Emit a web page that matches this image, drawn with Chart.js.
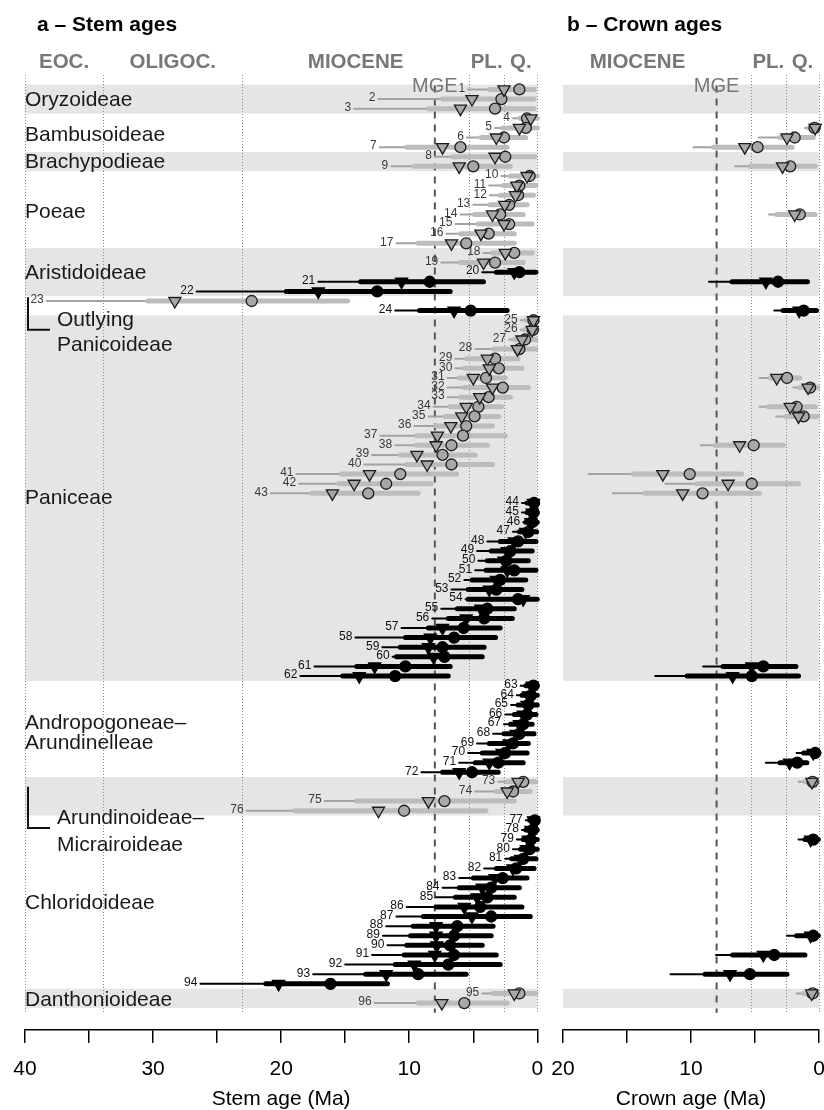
<!DOCTYPE html>
<html>
<head>
<meta charset="utf-8">
<script src="https://cdn.jsdelivr.net/npm/chart.js@4.4.1/dist/chart.umd.min.js"></script>
<style>
  html, body { margin: 0; padding: 0; background: #fff; overflow: hidden; }
  #wrap { position: relative; width: 824px; height: 1110px; overflow: hidden; }
  canvas { position: absolute; top: 0; }
  #stem { left: 0; }
  #crown { left: 550px; }
</style>
</head>
<body>
<div id="wrap">
  <canvas id="stem" width="550" height="1110"></canvas>
  <canvas id="crown" width="300" height="1110"></canvas>
</div>
<script>
// Rows 1..96, ages in Ma
const stemTri = [2.6, 5.1, 6.0, 0.5, 1.4, 3.2, 7.4, 3.3, 6.1, 0.8,
  1.6, 1.7, 2.55, 3.5, 2.6, 4.4, 6.7, 2.5, 4.2, 1.8,
  10.6, 17.1, 28.3, 6.5, 0.3, 0.4, 1.2, 1.55, 3.9, 3.75,
  5.0, 3.5, 4.5, 5.55, 5.9, 6.75, 7.8, 7.9, 9.4, 8.6,
  13.1, 14.3, 16.0, 0.3, 0.4, 0.5, 0.9, 1.8, 2.35, 2.6,
  2.35, 3.2, 3.75, 1.1, 4.4, 5.55, 7.4, 8.35, 8.5, 8.1,
  12.7, 13.9, 0.4, 0.7, 0.8, 1.1, 1.4, 1.65, 2.2, 2.75,
  3.75, 6.1, 1.5, 2.35, 8.5, 12.4, 0.3, 0.5, 0.7, 0.85,
  1.3, 1.9, 3.3, 4.3, 4.7, 5.7, 5.1, 7.9, 7.9, 7.85,
  8.0, 9.6, 11.8, 20.2, 1.8, 7.45];
const stemCirc = [1.4, 2.8, 3.3, 0.8, 0.9, 2.6, 6.0, 2.5, 5.0, 0.6,
  1.4, 1.5, 2.2, 2.9, 2.2, 3.8, 5.55, 1.8, 3.3, 1.4,
  8.4, 12.5, 22.3, 5.2, 0.3, 0.35, 0.95, 1.4, 3.3, 3.0,
  4.0, 2.7, 3.8, 4.6, 4.9, 5.55, 5.8, 6.7, 7.4, 6.7,
  10.7, 11.8, 13.2, 0.25, 0.3, 0.4, 0.7, 1.5, 2.1, 2.4,
  1.8, 2.9, 3.2, 1.5, 3.9, 4.15, 5.75, 6.5, 7.4, 7.25,
  10.3, 11.1, 0.3, 0.5, 0.7, 0.8, 1.1, 1.4, 1.9, 2.5,
  3.05, 5.1, 1.1, 1.9, 7.25, 10.4, 0.2, 0.35, 0.5, 0.6,
  1.1, 1.65, 2.7, 3.6, 3.9, 4.45, 3.6, 6.25, 6.5, 6.8,
  6.5, 6.95, 9.3, 16.15, 1.4, 5.7];
const stemThinLo = [5.4, 12.4, 14.3, 1.9, 3.3, 5.5, 12.3, 8.0, 11.4, 2.8,
  3.75, 3.7, 5.0, 6.0, 6.4, 7.1, 11.0, 4.2, 7.5, 4.3,
  17.1, 26.6, 38.3, 11.1, 1.3, 1.3, 2.2, 4.85, 6.4, 6.4,
  7.0, 7.0, 7.0, 8.1, 8.5, 9.6, 12.25, 11.1, 12.9, 13.5,
  18.8, 18.6, 20.8, 1.2, 1.2, 1.1, 1.9, 3.9, 4.7, 4.6,
  4.85, 5.7, 6.7, 5.6, 7.5, 8.2, 10.6, 14.2, 12.1, 11.3,
  17.4, 18.5, 1.3, 1.6, 2.05, 2.5, 2.6, 3.45, 4.7, 5.4,
  6.1, 9.05, 3.05, 4.85, 16.6, 22.7, 0.9, 1.2, 1.6, 1.9,
  2.5, 4.15, 6.1, 7.4, 7.9, 10.2, 11.0, 11.8, 12.05, 11.7,
  12.9, 15.0, 17.5, 26.3, 4.3, 12.7];
const stemThickLo = [3.7, 7.4, 8.5, 1.35, 2.7, 4.4, 10.2, 6.6, 9.6, 2.1,
  2.65, 2.9, 3.7, 4.9, 4.6, 6.0, 9.3, 3.5, 6.0, 3.2,
  13.8, 19.6, 30.4, 9.2, 0.9, 1.0, 1.8, 3.4, 5.5, 5.7,
  6.1, 5.7, 6.0, 6.8, 7.2, 7.9, 9.45, 9.45, 10.7, 10.2,
  15.3, 15.5, 17.6, 0.8, 0.8, 0.9, 1.4, 2.9, 3.6, 3.9,
  4.0, 5.1, 5.4, 5.4, 6.25, 6.95, 8.5, 10.3, 10.7, 11.0,
  14.1, 15.2, 0.9, 1.2, 1.5, 1.8, 2.1, 2.6, 3.75, 4.3,
  4.85, 7.4, 2.35, 3.2, 14.1, 18.9, 0.6, 0.9, 1.1, 1.3,
  2.0, 3.2, 5.0, 6.1, 6.4, 7.9, 8.9, 9.7, 9.9, 10.2,
  10.4, 11.1, 13.4, 21.2, 3.45, 9.3];
const stemThickHi = [0.25, 0.25, 0.25, 0.0, 0.0, 0.9, 2.35, 0.2, 2.1, 0.0,
  0.1, 0.3, 0.8, 1.1, 0.4, 1.8, 1.8, 0.4, 1.1, 0.1,
  4.2, 6.8, 14.8, 2.35, 0.0, 0.0, 0.1, 0.1, 1.5, 1.2,
  2.5, 0.7, 2.1, 2.8, 3.0, 3.5, 2.5, 3.9, 4.85, 3.5,
  6.3, 8.3, 9.3, 0.0, 0.0, 0.0, 0.05, 0.1, 0.4, 0.7,
  0.1, 0.9, 1.2, 0.0, 1.8, 1.95, 2.9, 3.25, 4.15, 4.3,
  6.8, 6.95, 0.0, 0.0, 0.0, 0.1, 0.4, 0.25, 0.7, 0.8,
  1.1, 3.05, 0.1, 0.55, 1.8, 4.0, 0.0, 0.0, 0.0, 0.0,
  0.1, 0.25, 0.8, 1.4, 1.8, 1.2, 0.55, 3.45, 3.6, 4.3,
  3.2, 2.9, 5.55, 11.7, 0.1, 2.35];

// crown ages exist only for some rows
const crownRows = [5, 6, 7, 9, 14, 21, 24, 31, 32, 34, 35, 38, 41, 42, 43, 61, 62, 70, 71, 73, 79, 89, 91, 93, 95];
const crownTri = [0.3, 2.5, 5.8, 2.85, 1.9, 4.15, 1.55, 3.3, 0.85, 2.25, 1.6, 6.2, 12.2, 7.1, 10.65, 5.25, 6.75, 0.45, 2.3, 0.55, 0.65, 0.65, 4.35, 6.95, 0.57];
const crownCirc = [0.35, 1.9, 4.8, 2.25, 1.5, 3.2, 1.2, 2.5, 0.7, 1.75, 1.2, 5.1, 10.1, 5.25, 9.1, 4.35, 5.25, 0.3, 1.7, 0.5, 0.45, 0.45, 3.5, 5.4, 0.5];
const crownThinLo = [1.1, 4.7, 9.8, 6.55, 3.9, 8.6, 3.5, 4.65, 2.0, 4.65, 3.35, 9.25, 18.0, 12.0, 16.1, 9.05, 12.8, 1.75, 4.15, 1.6, 1.6, 2.5, 8.05, 11.6, 1.75];
const crownThickLo = [0.8, 3.05, 8.25, 5.4, 3.3, 6.8, 2.8, 3.8, 1.5, 3.95, 2.6, 8.1, 14.5, 9.55, 13.6, 7.5, 10.3, 1.2, 3.05, 1.1, 1.1, 1.75, 6.75, 8.9, 1.2];
const crownThickHi = [0.0, 0.45, 2.1, 0.3, 0.3, 0.9, 0.2, 1.5, 0.1, 0.3, 0.1, 2.8, 6.05, 1.6, 4.65, 1.8, 1.6, 0.0, 0.95, 0.1, 0.05, 0.05, 1.1, 2.5, 0.1];

const blackRows = [20, 21, 22, 24,
  44, 45, 46, 47, 48, 49, 50, 51, 52, 53, 54, 55, 56, 57, 58, 59, 60, 61, 62,
  63, 64, 65, 66, 67, 68, 69, 70, 71, 72,
  77, 78, 79, 80, 81, 82, 83, 84, 85, 86, 87, 88, 89, 90, 91, 92, 93, 94];

const bands = [[1, 3], [8, 9], [18, 22], [25, 62], [73, 76], [95, 96]];
const groupNames = ['Oryzoideae', 'Bambusoideae', 'Brachypodieae', 'Poeae', 'Aristidoideae',
  'Outlying', 'Panicoideae', 'Paniceae', 'Andropogoneae–', 'Arundinelleae',
  'Arundinoideae–', 'Micrairoideae', 'Chloridoideae', 'Danthonioideae'];
const groupRow = [2.1, 5.74, 8.55, 13.75, 20.1, 24.98, 27.58, 43.5, 66.9, 68.97, 76.76, 79.57, 85.6, 95.69];
const groupIndent = [0, 0, 0, 0, 0, 32, 32, 0, 0, 0, 32, 32, 0, 0];
const brackets = [[22.6, 26.0], [73.5, 77.8]];

const epochNames = ['EOC.', 'OLIGOC.', 'MIOCENE', 'PL.', 'Q.'];
const epochBounds = [40, 33.9, 23.03, 5.333, 2.58, 0];
const mgeAge = 8;

const FONT = "'Liberation Sans', Arial, Helvetica, sans-serif";
const rowIds = stemTri.map((v, i) => i + 1);

const tones = {
  grey: { thin: '#a3a3a3', thick: '#bcbcbc', fill: '#a8a8a8', edge: '#1c1c1c', label: '#3a3a3a' },
  black: { thin: '#000', thick: '#000', fill: '#000', edge: '#000', label: '#111' }
};

function isBlack(r) { return blackRows.includes(r); }

function buildDatasets(rows, tri, circ, thinLo, thickLo, thickHi) {
  const sets = [];
  ['grey', 'black'].forEach(tone => {
    const t = tones[tone];
    const idx = rows.map((r, i) => i).filter(i => isBlack(rows[i]) === (tone === 'black'));
    const seg = (lo, hi) => idx.flatMap(i => [{x: lo[i], y: rows[i]}, {x: hi[i], y: rows[i]}, {x: null, y: null}]);
    sets.push({ data: seg(thinLo, thickHi), showLine: true, spanGaps: false, borderColor: t.thin, borderWidth: 2,
      borderCapStyle: 'round', pointRadius: 0, order: 4, clip: false });
    sets.push({ data: seg(thickLo, thickHi), showLine: true, spanGaps: false, borderColor: t.thick, borderWidth: 5,
      borderCapStyle: 'round', pointRadius: 0, order: 3, clip: false });
    sets.push({ data: idx.map(i => ({x: circ[i], y: rows[i]})), showLine: false, pointStyle: 'circle', pointRadius: 5.5,
      pointHoverRadius: 5.5, pointBackgroundColor: t.fill, pointBorderColor: t.edge, pointBorderWidth: 1.3, order: 2, clip: false });
    sets.push({ data: idx.map(i => ({x: tri[i], y: rows[i]})), showLine: false, pointStyle: 'triangle', pointRotation: 180,
      pointRadius: 7, pointHoverRadius: 7, pointBackgroundColor: t.fill, pointBorderColor: t.edge, pointBorderWidth: 1.3, order: 1, clip: false });
  });
  return sets;
}

function line(ctx, x1, y1, x2, y2) {
  ctx.beginPath(); ctx.moveTo(x1, y1); ctx.lineTo(x2, y2); ctx.stroke();
}

function decor(title, withLabels) {
  return {
    id: 'decor',
    beforeDatasetsDraw(chart) {
      const {ctx, chartArea: a} = chart;
      const x = chart.scales.x, y = chart.scales.y;
      ctx.save();
      ctx.fillStyle = '#e5e5e5';
      bands.forEach(([f, l]) => {
        const t = y.getPixelForValue(f - 0.5), b = y.getPixelForValue(l + 0.5);
        ctx.fillRect(a.left, t, a.right - a.left, b - t);
      });
      ctx.strokeStyle = '#8a8a8a'; ctx.lineWidth = 1; ctx.setLineDash([1, 2]);
      epochBounds.forEach(v => {
        if (v > x.max) return;
        const px = Math.round(x.getPixelForValue(v)) + 0.5;
        line(ctx, px, y.getPixelForValue(-0.5), px, y.getPixelForValue(97));
      });
      ctx.strokeStyle = '#555'; ctx.lineWidth = 2; ctx.setLineDash([7, 6]);
      const mx = x.getPixelForValue(mgeAge);
      line(ctx, mx, y.getPixelForValue(0.6), mx, y.getPixelForValue(97));
      ctx.setLineDash([]);

      if (withLabels) {
        ctx.fillStyle = '#1a1a1a';
        ctx.font = '21px ' + FONT;
        ctx.textAlign = 'left'; ctx.textBaseline = 'middle';
        groupNames.forEach((g, i) => ctx.fillText(g, a.left + groupIndent[i], y.getPixelForValue(groupRow[i])));
        ctx.strokeStyle = '#111'; ctx.lineWidth = 2;
        brackets.forEach(([f, l]) => {
          ctx.beginPath();
          ctx.moveTo(a.left + 3, y.getPixelForValue(f));
          ctx.lineTo(a.left + 3, y.getPixelForValue(l));
          ctx.lineTo(a.left + 25, y.getPixelForValue(l));
          ctx.stroke();
        });
        ctx.font = '12px ' + FONT;
        ctx.textAlign = 'right';
        rowIds.forEach((r, i) => {
          ctx.fillStyle = isBlack(r) ? tones.black.label : tones.grey.label;
          ctx.fillText(String(r), x.getPixelForValue(stemThinLo[i]) - 3, y.getPixelForValue(r) - 1);
        });
      }
      ctx.restore();
    },
    afterDraw(chart) {
      const {ctx, chartArea: a} = chart;
      const x = chart.scales.x, y = chart.scales.y;
      ctx.save();
      ctx.fillStyle = '#000';
      ctx.font = 'bold 21px ' + FONT;
      ctx.textAlign = 'left'; ctx.textBaseline = 'middle';
      ctx.fillText(title, a.left + (withLabels ? 12 : 4), 25);
      ctx.fillStyle = '#777';
      ctx.font = 'bold 20.5px ' + FONT;
      ctx.textAlign = 'center';
      epochNames.forEach((n, i) => {
        const c = (epochBounds[i] + epochBounds[i + 1]) / 2;
        if (c > x.max) return;
        ctx.fillText(n, x.getPixelForValue(c), y.getPixelForValue(-1.86));
      });
      ctx.font = '20px ' + FONT;
      ctx.fillText('MGE', x.getPixelForValue(mgeAge), y.getPixelForValue(0.65));
      ctx.restore();
    }
  };
}

function axisX(max, label) {
  return {
    type: 'linear', reverse: true, min: 0, max: max,
    afterFit(s) { s.height = 80; s.paddingLeft = 0; s.paddingRight = 0; },
    border: { display: true, color: '#000', width: 1.5 },
    grid: { drawOnChartArea: false, drawTicks: true, tickLength: 13, color: '#000', lineWidth: 1.5 },
    ticks: { stepSize: 5, autoSkip: false, maxRotation: 0, padding: 14, color: '#000',
      font: { family: FONT, size: 21 }, callback: v => (v % 10 === 0 ? String(v) : '') },
    title: { display: true, text: label, color: '#000', font: { family: FONT, size: 21 }, padding: { top: 0, bottom: -2 } }
  };
}

function makeChart(id, datasets, max, label, title, withLabels, padLeft, padRight) {
  return new Chart(document.getElementById(id), {
    type: 'scatter',
    data: { datasets: datasets },
    options: {
      responsive: false,
      devicePixelRatio: 1,
      animation: false,
      events: [],
      layout: { padding: { left: padLeft, right: padRight, top: 75, bottom: 0 } },
      scales: {
        x: axisX(max, label),
        y: { type: 'linear', display: false, reverse: true, min: -0.5, max: 98.8 }
      },
      plugins: { legend: { display: false }, tooltip: { enabled: false } }
    },
    plugins: [decor(title, withLabels)]
  });
}

makeChart('stem', buildDatasets(rowIds, stemTri, stemCirc, stemThinLo, stemThickLo, stemThickHi),
  40, 'Stem age (Ma)', 'a – Stem ages', true, 25, 12.7);
makeChart('crown', buildDatasets(crownRows, crownTri, crownCirc, crownThinLo, crownThickLo, crownThickHi),
  20, 'Crown age (Ma)', 'b – Crown ages', false, 13, 31);
</script>
</body>
</html>
